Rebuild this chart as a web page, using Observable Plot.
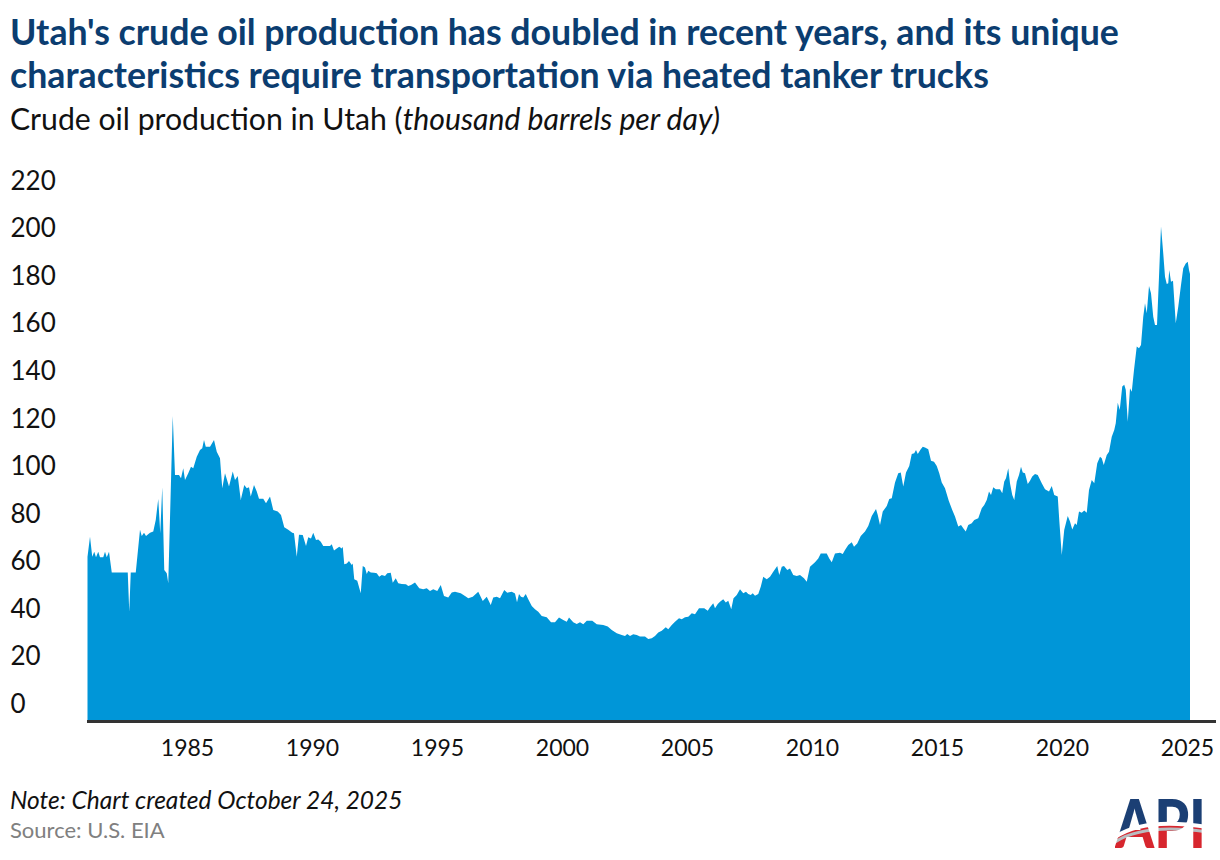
<!DOCTYPE html>
<html>
<head>
<meta charset="utf-8">
<script src="https://cdn.jsdelivr.net/npm/d3@7"></script>
<script src="https://cdn.jsdelivr.net/npm/@observablehq/plot@0.6"></script>
<style>
  html, body { margin: 0; padding: 0; background: #fff; }
  body { width: 1220px; height: 860px; position: relative; overflow: hidden; font-family: Lato, "Open Sans", sans-serif; }
  #title { position: absolute; left: 10px; top: 10px; font-weight: 700; color: #0b3d70; font-size: 35.7px; line-height: 43px; white-space: nowrap; }
  #subtitle { position: absolute; left: 10px; top: 103px; color: #111; font-size: 30.2px; line-height: 30px; white-space: nowrap; }
  #chart { position: absolute; left: 0; top: 140px; }
  #note { position: absolute; left: 10px; top: 787px; font-style: italic; color: #111; font-size: 24.5px; line-height: 26px; white-space: nowrap; }
  #source { position: absolute; left: 10px; top: 817px; color: #808080; font-size: 22px; line-height: 26px; white-space: nowrap; }
  #logo { position: absolute; left: 1115px; top: 793px; }
</style>
</head>
<body>
<div id="title">Utah's crude oil production has doubled in recent years, and its unique<br>characteristics require transportation via heated tanker trucks</div>
<div id="subtitle">Crude oil production in Utah (<i>thousand barrels per day)</i></div>
<div id="chart"></div>
<div id="note">Note: Chart created October 24, 2025</div>
<div id="source">Source: U.S. EIA</div>
<svg id="logo" width="92" height="57" viewBox="0 0 92 57">
  <defs>
    <clipPath id="apiClip">
      <text x="0" y="55" font-family="Lato" font-weight="900" font-size="66" textLength="91" lengthAdjust="spacingAndGlyphs">API</text>
    </clipPath>
  </defs>
  <g clip-path="url(#apiClip)">
    <rect x="0" y="0" width="92" height="57" fill="#1b3f74"></rect>
    <path d="M0,57 L0,44 Q30,24 92,34 L92,57 Z" fill="#d7262e"></path>
    <path d="M0,44 Q30,24 92,34" stroke="#ffffff" stroke-width="4" fill="none"></path>
    <path d="M0,49 Q30,30 92,39" stroke="#b9bcc0" stroke-width="3" fill="none"></path>
  </g>
</svg>
<script>
// Tick values
const xTickYears = [1985, 1990, 1995, 2000, 2005, 2010, 2015, 2020, 2025];
const yTickValues = [0, 20, 40, 60, 80, 100, 120, 140, 160, 180, 200, 220];

// Time (fractional year)
const years = [
1981.02,1981.12,1981.21,1981.29,1981.36,1981.45,1981.52,1981.65,1981.72,1981.79,1981.88,1981.99,
1982.63,1982.69,1982.75,1982.95,1983.12,1983.19,1983.28,1983.36,1983.52,1983.65,1983.75,1983.85,1983.93,
1984.01,1984.09,1984.19,1984.25,1984.43,1984.52,1984.68,1984.76,1984.85,1984.92,
1985.05,1985.16,1985.25,1985.39,1985.52,1985.61,1985.68,1985.75,1985.92,
1986.08,1986.19,1986.32,1986.41,1986.52,1986.68,1986.83,1986.92,
1987.03,1987.15,1987.29,1987.39,1987.48,1987.55,1987.68,1987.79,1987.88,
1988.05,1988.16,1988.32,1988.45,1988.63,1988.76,1988.89,
1989.05,1989.21,1989.28,1989.39,1989.48,1989.63,1989.76,1989.85,1989.96,
1990.05,1990.16,1990.25,1990.35,1990.45,1990.72,1990.79,1990.88,1990.99,
1991.09,1991.19,1991.23,1991.29,1991.39,1991.48,1991.59,1991.63,1991.69,1991.81,1991.95,
1992.03,1992.12,1992.19,1992.25,1992.35,1992.48,1992.59,1992.69,1992.79,1992.92,
1993.01,1993.15,1993.23,1993.35,1993.45,1993.59,1993.76,1993.85,1993.96,
1994.12,1994.29,1994.45,1994.59,1994.72,1994.85,
1995.01,1995.15,1995.28,1995.45,1995.59,1995.72,1995.95,
1996.12,1996.25,1996.43,1996.65,1996.83,1996.99,
1997.15,1997.25,1997.39,1997.52,1997.69,1997.81,1997.99,
1998.12,1998.20,1998.28,1998.36,1998.45,1998.55,1998.65,1998.79,1998.92,
1999.05,1999.19,1999.39,1999.56,1999.72,1999.88,
2000.05,2000.19,2000.28,2000.45,2000.59,2000.72,2000.85,2000.99,
2001.21,2001.39,2001.65,2001.83,2001.99,
2002.19,2002.39,2002.52,2002.61,2002.72,2002.85,2002.99,
2003.12,2003.32,2003.45,2003.59,2003.72,2003.85,2003.99,
2004.15,2004.25,2004.39,2004.52,2004.68,2004.79,2004.92,
2005.05,2005.19,2005.32,2005.48,2005.69,2005.83,2005.92,
2006.05,2006.12,2006.23,2006.32,2006.45,2006.55,2006.65,2006.77,2006.86,2006.99,
2007.12,2007.25,2007.36,2007.45,2007.55,2007.63,2007.72,2007.85,2007.95,
2008.05,2008.19,2008.32,2008.45,2008.61,2008.69,2008.79,2008.88,
2009.01,2009.12,2009.25,2009.39,2009.52,2009.68,2009.79,2009.92,
2010.12,2010.25,2010.35,2010.59,2010.69,2010.79,2010.92,
2011.12,2011.23,2011.32,2011.45,2011.59,2011.68,2011.81,2011.95,
2012.12,2012.25,2012.39,2012.56,2012.63,2012.72,2012.83,2012.99,
2013.09,2013.19,2013.32,2013.45,2013.55,2013.65,2013.76,2013.89,2013.99,
2014.09,2014.16,2014.23,2014.35,2014.43,2014.52,2014.65,2014.76,2014.88,2014.99,
2015.09,2015.19,2015.32,2015.47,2015.61,2015.72,2015.85,2015.96,
2016.05,2016.15,2016.25,2016.39,2016.49,2016.65,2016.79,2016.89,2016.99,
2017.08,2017.16,2017.25,2017.35,2017.52,2017.61,2017.69,2017.76,2017.85,2017.92,
2018.01,2018.09,2018.19,2018.28,2018.36,2018.43,2018.52,2018.63,2018.72,2018.81,2018.92,
2019.03,2019.19,2019.32,2019.48,2019.59,2019.69,2019.83,2019.89,2019.99,
2020.09,2020.23,2020.32,2020.41,2020.52,2020.59,2020.68,2020.79,2020.89,2020.99,
2021.08,2021.19,2021.29,2021.41,2021.52,2021.59,2021.67,2021.79,2021.88,2021.99,
2022.09,2022.15,2022.23,2022.31,2022.41,2022.49,2022.55,2022.63,2022.72,2022.79,2022.88,2022.99,
2023.08,2023.16,2023.25,2023.32,2023.39,2023.48,2023.56,2023.65,2023.72,2023.80,2023.88,2023.96,
2024.05,2024.12,2024.19,2024.25,2024.29,2024.36,2024.44,2024.55,2024.65,2024.76,2024.85,2024.95,
2025.03,2025.08,2025.12
];

// Crude oil production, thousand barrels per day
const production = [
69.1,77.5,69.1,71.2,68.9,71.2,68.9,68.9,71.2,68.9,71.2,62.5,
62.5,46.0,62.5,62.5,80.4,77.8,79.2,77.8,79.2,79.7,84.6,93.4,79.0,
98.3,63.5,62.1,57.9,128.3,103.5,103.5,102.1,106.3,101.4,
104.2,107.0,106.3,111.2,114.0,114.7,118.2,115.4,115.4,
118.2,113.3,110.5,97.9,104.2,98.6,104.9,101.4,
103.1,93.0,99.3,97.9,98.3,94.4,99.3,96.5,93.5,
93.5,91.6,94.4,88.8,88.1,86.7,81.5,
80.4,79.2,79.0,69.1,78.3,78.2,73.6,77.3,76.8,
79.2,76.1,76.4,75.4,73.6,73.6,74.3,71.7,72.6,
73.3,72.6,73.3,65.9,66.3,67.3,65.6,66.3,59.6,59.0,53.7,
65.2,64.6,61.8,63.2,62.5,62.4,62.1,60.7,61.4,61.0,
62.1,62.4,58.2,60.0,57.9,57.6,57.5,56.8,57.2,
58.3,55.8,55.4,55.8,54.7,55.4,
54.7,57.2,52.6,51.9,54.1,54.4,53.7,
52.6,51.6,52.3,54.4,50.5,52.3,
48.8,51.9,52.3,51.6,55.1,54.0,54.4,
53.6,50.0,53.4,52.3,52.0,53.4,51.2,48.4,47.0,
46.0,44.2,43.6,41.5,41.5,43.5,
42.5,41.8,43.5,41.5,40.8,41.5,40.7,42.2,
42.2,40.7,40.4,39.7,38.3,
36.9,36.2,35.8,36.6,35.8,36.5,36.2,
35.5,35.5,34.5,34.8,35.8,37.2,38.0,
39.4,38.6,40.4,41.8,43.2,42.8,43.6,
43.9,45.3,44.9,47.4,47.4,46.4,47.8,
49.5,47.4,49.2,50.2,51.2,49.8,50.6,47.0,51.6,53.0,
55.4,53.7,54.4,53.4,53.0,53.7,52.7,53.4,56.5,
60.7,59.6,60.7,62.8,65.2,61.4,64.9,65.2,
63.5,64.2,61.4,61.0,61.4,60.0,58.6,64.9,
66.8,68.4,70.5,70.5,68.4,66.8,70.5,
70.8,70.3,71.9,74.0,75.2,73.3,74.7,77.8,
79.7,82.0,86.2,89.2,86.7,82.5,88.1,90.4,
93.4,93.7,100.3,104.2,104.5,98.6,104.5,107.3,112.3,
112.6,114.0,112.3,114.3,115.4,115.1,114.3,109.5,109.1,107.3,
104.2,100.3,97.9,92.6,88.8,86.0,81.8,82.5,
81.1,79.7,82.5,83.2,84.6,85.3,89.5,90.9,93.0,
96.5,95.1,98.3,97.5,97.5,95.8,100.7,102.1,106.3,100.0,
95.1,93.0,100.7,103.5,107.0,104.5,104.2,99.7,101.1,102.8,103.9,
103.5,100.0,97.5,96.5,98.9,95.1,94.4,84.6,69.8,
80.4,86.2,83.9,80.6,83.2,82.5,88.1,87.6,88.5,87.6,
97.2,101.4,100.0,108.4,111.2,110.5,107.7,111.9,113.3,119.6,
122.4,125.2,133.9,130.8,140.7,141.4,139.3,125.9,140.0,138.5,147.7,157.5,
156.8,158.2,170.1,175.7,171.5,183.0,179.9,170.1,166.6,166.6,186.9,208.0,
196.7,186.9,183.8,184.1,189.7,184.8,185.2,167.3,174.3,183.4,190.4,192.5,
193.2,189.7,188.0
];

const data = years.map((t, i) => ({t, v: production[i]}));

const chart = Plot.plot({
  width: 1220,
  height: 635,
  marginLeft: 87,
  marginRight: 4,
  marginTop: 58,
  marginBottom: 54,
  x: {type: "linear", domain: [1981, 2026.16]},
  y: {domain: [0, 220]},
  style: {fontFamily: "Lato, 'Open Sans', sans-serif", color: "#111", background: "transparent"},
  marks: [
    Plot.areaY(data, {x: "t", y: "v", fill: "#0096d8", curve: "linear"}),
    Plot.ruleY([0], {stroke: "#333", strokeWidth: 3}),
    Plot.axisY(yTickValues, {anchor: "left", tickSize: 0, tickPadding: 0, textAnchor: "start", dx: -77, dy: -17, label: null, fontSize: 26, fill: "#111"}),
    Plot.axisX(xTickYears, {anchor: "bottom", tickSize: 0, tickPadding: 18, label: null, tickFormat: d => String(d), fontSize: 23, fill: "#111"})
  ]
});
document.getElementById("chart").appendChild(chart);
</script>
</body>
</html>
